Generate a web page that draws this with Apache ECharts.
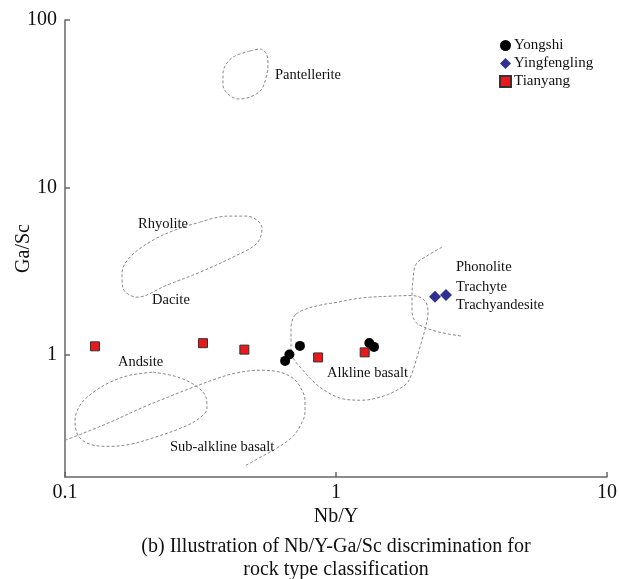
<!DOCTYPE html>
<html>
<head>
<meta charset="utf-8">
<script src="https://cdn.jsdelivr.net/npm/echarts@6/dist/echarts.min.js"></script>
<style>
html,body{margin:0;padding:0;background:#fff;}
#chart{width:619px;height:579px;}
</style>
</head>
<body>
<div id="chart"></div>
<script>
// ---- data (Nb/Y, Ga/Sc) ----
var xTicks = [0.1, 1, 10];
var yTicks = [1, 10, 100];

var yongshi = [[0.649,0.925],[0.673,1.01],[0.736,1.137],[1.327,1.184],[1.381,1.121]];
var yingfengling = [[2.319,2.23],[2.546,2.29]];
var tianyang = [[0.129,1.13],[0.323,1.18],[0.459,1.08],[0.859,0.97],[1.276,1.04]];

var pantellerite = [[0.4815,65.3],[0.5243,67.1],[0.5563,61.8],[0.5610,53.9],[0.5515,45.1],[0.5286,38.2],[0.4815,34.7],[0.4349,33.8],[0.3995,36.2],[0.3828,40.9],[0.3828,48.3],[0.3961,55.4],[0.4239,61.0],[0.4815,65.3]];
var rhyoliteDacite = [[0.3149,6.22],[0.3961,6.76],[0.4693,6.76],[0.5110,6.40],[0.5332,5.73],[0.5110,4.66],[0.4168,3.85],[0.3149,3.13],[0.2379,2.62],[0.1844,2.22],[0.1637,2.51],[0.1623,3.09],[0.1738,3.85],[0.2112,4.86],[0.2657,5.73],[0.3149,6.22]];
var andesite = [[0.2112,0.792],[0.2546,0.749],[0.3018,0.662],[0.3314,0.562],[0.3342,0.483],[0.3096,0.415],[0.2657,0.366],[0.2149,0.324],[0.1738,0.294],[0.1466,0.286],[0.1237,0.294],[0.1117,0.333],[0.1089,0.409],[0.1136,0.503],[0.1258,0.593],[0.1466,0.690],[0.1738,0.760],[0.2112,0.792]];
var subAlkaline = [[0.1,0.311],[0.1165,0.342],[0.1466,0.398],[0.1940,0.489],[0.2441,0.569],[0.2967,0.644],[0.3577,0.719],[0.4239,0.781],[0.5243,0.814],[0.6214,0.792],[0.6940,0.729],[0.7427,0.635],[0.7684,0.539],[0.7684,0.457],[0.7365,0.377],[0.6881,0.324],[0.6109,0.282],[0.5332,0.249],[0.4575,0.217]];
var alkaline = [[0.7119,1.76],[0.7554,1.86],[0.8730,1.99],[1.0085,2.07],[1.1553,2.16],[1.3352,2.22],[1.5823,2.25],[1.8755,2.27],[2.0417,2.22],[2.1487,2.07],[2.1857,1.81],[2.1487,1.51],[2.0767,1.23],[1.9900,0.973],[1.9074,0.781],[1.8281,0.681],[1.6509,0.610],[1.4535,0.562],[1.2470,0.539],[1.0794,0.546],[0.9747,0.577],[0.8730,0.644],[0.8018,0.729],[0.7554,0.814],[0.7119,0.908],[0.6822,1.04],[0.6822,1.23],[0.6822,1.45],[0.6940,1.66],[0.7119,1.76]];
var phonolite = [[2.4611,4.41],[2.1857,3.95],[1.9730,3.49],[1.9237,2.80],[1.9074,2.28],[1.9074,1.81],[1.9730,1.57],[2.1124,1.47],[2.4200,1.37],[2.9160,1.30]];

var regionNames = ['Pantellerite','Rhyolite','Dacite','Andsite','Sub-alkline basalt','Alkline basalt','Phonolite','Trachyte','Trachyandesite'];
var regionAnchors = [[0.5955,46.95],[0.1860,6.06],[0.2094,2.13],[0.1569,0.908],[0.2441,0.282],[0.9265,0.781],[2.772,3.35],[2.772,2.55],[2.772,1.99]];

var seriesNames = ['Yongshi','Yingfengling','Tianyang'];

// ---- chart ----
var FONT = '"Liberation Serif", "Times New Roman", serif';
var chart = echarts.init(document.getElementById('chart'), null, {renderer:'canvas'});

function boundary(d){
  return {type:'line', data:d, symbol:'none', smooth:0.35, silent:true, z:1,
    lineStyle:{color:'#8a8a8a', width:1, type:[3,2]}};
}
function isPow10(v){ var l = Math.log(v)/Math.LN10; return Math.abs(l-Math.round(l))<1e-6; }

var option = {
  animation:false,
  backgroundColor:'#fff',
  grid:{left:65, right:12, top:20, bottom:102, containLabel:false, outerBoundsMode:'none'},
  legend:{
    data:[{name:seriesNames[0], icon:'circle'},{name:seriesNames[1], icon:'diamond'},{name:seriesNames[2], icon:'rect'}],
    orient:'vertical', left:494, top:33, itemWidth:11, itemHeight:11, itemGap:3,
    textStyle:{fontFamily:FONT, fontSize:15, color:'#111', padding:[0,0,0,-2]}
  },
  xAxis:{
    type:'log', min:xTicks[0], max:xTicks[xTicks.length-1], logBase:10,
    name:'Nb/Y', nameLocation:'middle', nameGap:30, nameMoveOverlap:false,
    nameTextStyle:{fontFamily:FONT, fontSize:20, color:'#111'},
    axisLine:{lineStyle:{color:'#666', width:1.5}},
    axisTick:{inside:true, length:5, lineStyle:{color:'#666', width:1.5}},
    axisLabel:{fontFamily:FONT, fontSize:20, color:'#111', margin:6,
      formatter:function(v){ return isPow10(v) ? String(+v.toPrecision(3)) : ''; }},
    splitLine:{show:false}
  },
  yAxis:{
    type:'log', min:0.1877, max:yTicks[yTicks.length-1], logBase:10,
    name:'Ga/Sc', nameLocation:'middle', nameGap:31, nameMoveOverlap:false,
    nameTextStyle:{fontFamily:FONT, fontSize:20, color:'#111'},
    axisLine:{lineStyle:{color:'#666', width:1.5}},
    axisTick:{inside:true, length:5, lineStyle:{color:'#666', width:1.5}},
    axisLabel:{fontFamily:FONT, fontSize:20, color:'#111', margin:8, showMinLabel:false,
      formatter:function(v){ return isPow10(v) ? String(+v.toPrecision(3)) : ''; }},
    splitLine:{show:false}
  },
  graphic:[{
    type:'text', x:336, y:535, z:10,
    style:{text:'(b) Illustration of Nb/Y-Ga/Sc discrimination for\nrock type classification',
      textAlign:'center', fill:'#111', font:'20px "Liberation Serif", serif', lineHeight:23}
  }],
  series:[
    boundary(pantellerite),
    boundary(rhyoliteDacite),
    boundary(andesite),
    boundary(subAlkaline),
    boundary(alkaline),
    boundary(phonolite),
    {type:'scatter', silent:true, z:2, symbolSize:0, itemStyle:{opacity:1},
      data:regionAnchors.map(function(p,i){ return {value:p, name:regionNames[i]}; }),
      label:{show:true, position:'right', distance:0, formatter:'{b}', opacity:1,
        fontFamily:FONT, fontSize:14.5, color:'#111'}},
    {name:seriesNames[2], type:'scatter', data:tianyang, symbol:'rect', symbolSize:9, z:5,
      itemStyle:{color:'#e8191c', borderColor:'#333', borderWidth:1, opacity:1}},
    {name:seriesNames[0], type:'scatter', data:yongshi, symbol:'circle', symbolSize:10, z:6,
      itemStyle:{color:'#000', opacity:1}},
    {name:seriesNames[1], type:'scatter', data:yingfengling, symbol:'diamond', symbolSize:12, z:6,
      itemStyle:{color:'#2e3192', opacity:1}}
  ]
};
chart.setOption(option);
</script>
</body>
</html>
